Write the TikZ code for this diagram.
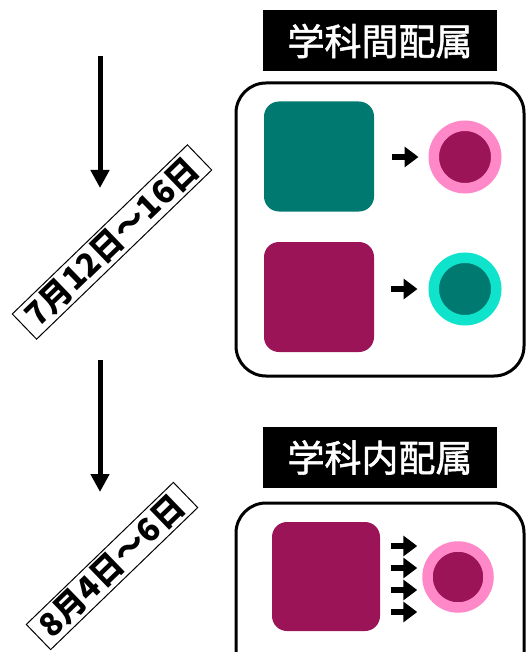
\documentclass[tikz,border=0pt]{standalone}
\usepackage{fontspec}
\newfontfamily\cjkm{Noto Sans CJK JP}[FakeBold=1.5]
\newfontfamily\cjk{Noto Sans CJK JP}
\usetikzlibrary{arrows.meta}
\definecolor{teal1}{HTML}{007A70}
\definecolor{mag1}{HTML}{9B1458}
\definecolor{pink1}{HTML}{FF88C8}
\definecolor{cyan1}{HTML}{10E3CB}
\tikzset{
  headbox/.style={fill=black,text=white,minimum width=234pt,minimum height=61pt,inner sep=0pt,font=\cjkm\fontsize{37}{40}\selectfont},
  groupbox/.style={draw=black,line width=3pt,rounded corners=30pt},
  sq/.style={rounded corners=15pt,minimum size=110pt,inner sep=0pt},
  ring/.style={circle,line width=10.5pt,minimum size=62.5pt,inner sep=0pt},
  fatarrow/.style={line width=6.5pt,-{Triangle[length=14pt,width=20pt]}},
  flowarrow/.style={line width=5pt,-{Triangle[length=18pt,width=18pt]}},
  datebox/.style={draw=black,line width=1pt,fill=white,rotate=44,inner xsep=9pt,inner ysep=3pt,font=\cjk\bfseries\fontsize{32}{34}\selectfont},
}
\begin{document}
\begin{tikzpicture}[x=1pt,y=-1pt]
\useasboundingbox (0,0) rectangle (526,652);
\clip (0,0) rectangle (526,652);
% top group
\node[headbox] (h1) at (380,41) {学科間配属};
\node[groupbox,minimum width=288pt,minimum height=293pt,inner sep=0pt] (b1) at (380,229.5) {};
\node[sq,fill=teal1] (s1) at (319,156.5) {};
\node[sq,fill=mag1] (s2) at (319,297) {};
\node[ring,draw=pink1,fill=mag1] (c1) at (465,157) {};
\node[ring,draw=cyan1,fill=teal1] (c2) at (465,289) {};
\draw[fatarrow,shorten <=18pt,shorten >=10pt] (s1.east |- c1) -- (c1.west);
\draw[fatarrow,shorten <=17pt,shorten >=11pt] (s2.east |- c2) -- (c2.west);
% bottom group
\node[headbox] (h2) at (380,457.5) {学科内配属};
\node[groupbox,minimum width=288pt,minimum height=200pt,inner sep=0pt] (b2) at (380,603) {};
\node[sq,fill=mag1,minimum width=108pt,minimum height=109pt] (s3) at (326,576.5) {};
\node[ring,draw=pink1,fill=mag1,minimum size=61pt] (c3) at (458,577) {};
\foreach \yy/\nm in {546/a,568/b,590/c,612/d}{
  \coordinate (p\nm) at (s3.east |- 0,\yy);
  \coordinate (q\nm) at (c3.west |- 0,\yy);
  \draw[fatarrow,shorten <=11pt,shorten >=5pt] (p\nm) -- (q\nm);
}
% timeline
\coordinate (t1) at (100,56);
\coordinate (t2) at (100,188);
\coordinate (t3) at (100,360);
\coordinate (t4) at (100,492);
\draw[flowarrow] (t1) -- (t2);
\draw[flowarrow] (t3) -- (t4);
\node[datebox] (d1) at (112,242) {7月12日〜16日};
\node[datebox] (d2) at (112,566) {8月4日〜6日};
\end{tikzpicture}
\end{document}
